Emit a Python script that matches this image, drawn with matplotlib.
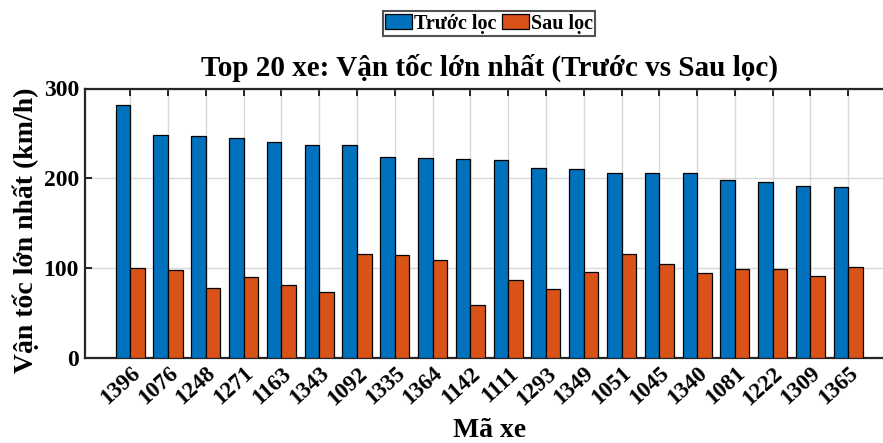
import numpy as np
import matplotlib
matplotlib.use("Agg")
import matplotlib.pyplot as plt

plt.rcParams["font.family"] = ["Liberation Serif", "DejaVu Serif"]
plt.rcParams["font.weight"] = "bold"

vehicle_ids = ["1396", "1076", "1248", "1271", "1163", "1343", "1092", "1335", "1364", "1142",
               "1111", "1293", "1349", "1051", "1045", "1340", "1081", "1222", "1309", "1365"]
vmax_before = [281.3, 248.5, 247.4, 244.4, 240.0, 237.4, 236.6, 223.6, 222.5, 221.7,
               220.2, 211.6, 210.2, 206.0, 206.0, 206.0, 197.9, 196.0, 191.5, 190.4]
vmax_after = [99.5, 97.6, 77.5, 89.8, 81.2, 73.0, 115.2, 114.0, 108.8, 58.5,
              86.8, 76.7, 95.0, 115.2, 104.3, 93.9, 98.4, 98.4, 91.2, 101.3]

BLUE, ORANGE = "#0072BD", "#D95319"

fig = plt.figure(figsize=(8.83, 4.43), dpi=100)
W, H = 883, 443
ax = fig.add_axes([84.5 / W, 1 - 357.5 / H, (894 - 84.5) / W, (357.5 - 88.5) / H])

x = np.arange(1, len(vehicle_ids) + 1)
bw = 0.385
ax.bar(x - bw / 2, vmax_before, bw, color=BLUE, edgecolor="black", linewidth=0.9,
       label="Trước lọc", zorder=3)
ax.bar(x + bw / 2, vmax_after, bw, color=ORANGE, edgecolor="black", linewidth=0.9,
       label="Sau lọc", zorder=3)

ax.set_xlim(-0.21, 21.21)
ax.set_ylim(0, 300)
ax.set_yticks([0, 100, 200, 300])
ax.set_xticks(x)
ax.set_xticklabels(vehicle_ids, rotation=42, ha="right", rotation_mode="anchor",
                   fontsize=16.5, fontweight="bold")
for t in ax.get_yticklabels():
    t.set_fontsize(17)
    t.set_fontweight("bold")

ax.grid(True, color="#d9d9d9", linewidth=1.0, zorder=0)
ax.tick_params(direction="in", top=True, right=False, length=5, width=1.2, pad=4)
for s in ax.spines.values():
    s.set_linewidth(1.6)
    s.set_color("#262626")
ax.spines["right"].set_visible(False)

ax.set_title("Top 20 xe: Vận tốc lớn nhất (Trước vs Sau lọc)", fontsize=21,
             fontweight="bold", pad=9)
ax.set_ylabel("Vận tốc lớn nhất (km/h)", fontsize=20, fontweight="bold")
ax.yaxis.set_label_coords(-0.056, 0.474)
ax.set_xlabel("Mã xe", fontsize=20, fontweight="bold", labelpad=6)

leg = fig.legend(loc="center", bbox_to_anchor=(489 / W, 1 - 23.5 / H), ncol=2,
                 fontsize=14.5, frameon=True, fancybox=False, edgecolor="#262626",
                 handlelength=1.35, handleheight=0.8, handletextpad=0.1,
                 columnspacing=0.25, borderpad=0.12, borderaxespad=0)
leg.get_frame().set_linewidth(1.5)
for t in leg.get_texts():
    t.set_fontweight("bold")

fig.savefig("out.png", dpi=100)
